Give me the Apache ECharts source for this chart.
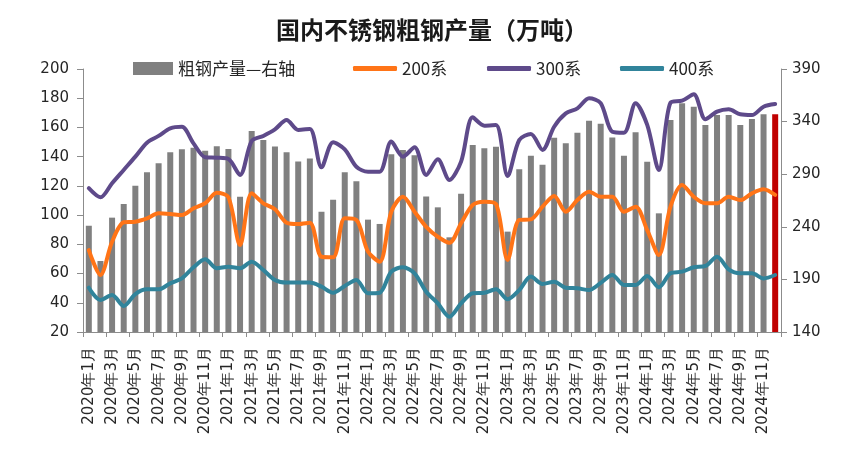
<!DOCTYPE html>
<html>
<head>
<meta charset="utf-8">
<script src="https://cdn.jsdelivr.net/npm/echarts@6/dist/echarts.min.js"></script>
<style>html,body{margin:0;padding:0;background:#fff}#c{width:864px;height:460px}</style>
</head>
<body>
<div id="c"></div>
<script>
const years = [2020, 2021, 2022, 2023, 2024];
const categories = [];
years.forEach(y => { for (let m = 1; m <= 12; m++) categories.push(y + '年' + m + '月'); });

const crudeSteel = [241,207.5,248.7,261.7,279.1,291.8,300.4,310.8,313.7,315.2,312.3,316.5,
  314,268.6,331,322.5,316.3,310.8,302,305,254.3,265.8,291.8,283.2,
  246.8,242.7,309,313,308,268.8,258.5,230,271.5,317.8,314.6,316.2,
  235.4,294.7,307.6,299,324.7,319.4,329.5,340.9,338,325,307.6,329.8,
  301.9,252.8,341.5,357.4,354.2,336.8,346.3,346.3,336.8,342.5,346.9,347];
const s200 = [76.1,59,81.8,95.1,95.5,97.8,101.2,100.8,100.1,104.7,108.1,115.3,
  112.2,79.5,114.9,108.1,104,94.8,93.9,94.8,71.5,71.1,97.8,96.7,
  75,68.1,102.3,112.6,102.3,92,85.2,81.1,94.4,106.9,109.2,107.6,
  69.3,96.7,97.1,105.8,113.1,102.3,110.3,116,112.6,112.6,102.3,105.8,
  89.8,72.7,105.8,120.6,112.6,108.1,108.1,112.6,110.3,114.9,117.7,113.8];
const s300 = [118.4,112.2,121.8,130.9,140,149.6,154.2,159.4,160.5,149.1,139.6,139.3,
  138.4,127.5,150.7,154.2,158.7,165.1,158.3,159,132.7,149.8,145,133.1,
  129.7,129.7,150.3,140,146.4,127.5,138.2,124,136.6,166.9,161.2,161.7,
  126.8,151.4,155.5,144.6,160.5,169.6,173.1,180,176.7,157.1,156.4,176.5,
  161.7,130.9,176.9,178.3,182.7,165.6,170.8,172.4,169,168.5,174.2,176];
const s400 = [50.3,41.9,45.3,37.8,46,49.2,49.2,53.3,56.7,64.3,69.8,63.6,
  64.7,63.6,68.1,62.4,55.6,53.8,53.8,53.8,51,46.9,51.5,55.6,
  46.5,46.9,61.3,64.3,60.2,47.6,39.6,30.5,39.6,46.5,46.9,49.2,
  42.4,48.7,57.9,52.9,54.4,50.3,49.9,48.7,53.6,59,52.2,52.2,
  58.3,50.6,60.2,61.3,64.3,65.2,71.5,62.9,60.2,60.2,56.7,59];
const leftTicks = [20,40,60,80,100,120,140,160,180,200];
const rightTicks = [140,190,240,290,340,390];
const seriesNames = ['粗钢产量—右轴','200系','300系','400系'];

const barData = crudeSteel.map((v, i) => i === crudeSteel.length - 1 ? {value: v, itemStyle: {color: '#c00000'}} : v);

const chart = echarts.init(document.getElementById('c'));
const axisColor = '#8c8c8c';
const lblFont = {fontFamily: 'DejaVu Sans', fontSize: 15, color: '#262626'};
const lgText = {fontFamily: 'Noto Sans CJK SC', fontSize: 17, color: '#262626'};
function lg(left, name, w, h, icon) {
  return {left: left, top: 60, data: [name], itemWidth: w, itemHeight: h, icon: icon, itemGap: 0,
    textStyle: lgText, selectedMode: false, padding: 0};
}
chart.setOption({
  animation: false,
  title: {text: '国内不锈钢粗钢产量（万吨）', left: 'center', top: 13,
    textStyle: {fontFamily: 'Noto Sans CJK SC', fontSize: 24, fontWeight: 'bold', color: '#1a1a1a'}},
  legend: [
    lg(133, seriesNames[0], 40, 13, 'rect'),
    lg(353, seriesNames[1], 44, 5, 'roundRect'),
    lg(487, seriesNames[2], 44, 5, 'roundRect'),
    lg(620, seriesNames[3], 44, 5, 'roundRect')
  ],
  grid: {left: 83, right: 83, top: 69, bottom: 128},
  xAxis: {
    type: 'category', data: categories, boundaryGap: true,
    axisLine: {lineStyle: {color: axisColor}},
    axisTick: {show: true, interval: 1, length: 5, lineStyle: {color: axisColor}},
    axisLabel: {interval: 1, rotate: 90, margin: 15, fontFamily: 'DejaVu Sans', fontSize: 15, color: '#262626'}
  },
  yAxis: [
    {type: 'value', min: 20, max: 200, interval: 20, position: 'left',
      axisLine: {show: true, lineStyle: {color: axisColor}},
      axisTick: {show: true, length: 6, lineStyle: {color: axisColor}},
      splitLine: {show: false},
      axisLabel: Object.assign({margin: 14}, lblFont)},
    {type: 'value', min: 140, max: 390, position: 'right',
      axisLine: {show: true, lineStyle: {color: axisColor}},
      axisTick: {show: true, length: 6, customValues: rightTicks, lineStyle: {color: axisColor}},
      splitLine: {show: false},
      axisLabel: Object.assign({margin: 11, customValues: rightTicks}, lblFont)}
  ],
  series: [
    {name: seriesNames[0], type: 'bar', yAxisIndex: 1, data: barData, barWidth: 6,
      itemStyle: {color: '#808080'}},
    {name: seriesNames[1], type: 'line', yAxisIndex: 0, data: s200, smooth: 0.3, symbol: 'none',
      lineStyle: {width: 4, color: '#ff7417', cap: 'round', join: 'round'}, itemStyle: {color: '#ff7417'}},
    {name: seriesNames[2], type: 'line', yAxisIndex: 0, data: s300, smooth: 0.3, symbol: 'none',
      lineStyle: {width: 4, color: '#5e4a8a', cap: 'round', join: 'round'}, itemStyle: {color: '#5e4a8a'}},
    {name: seriesNames[3], type: 'line', yAxisIndex: 0, data: s400, smooth: 0.3, symbol: 'none',
      lineStyle: {width: 4, color: '#31849b', cap: 'round', join: 'round'}, itemStyle: {color: '#31849b'}}
  ]
});
</script>
</body>
</html>
